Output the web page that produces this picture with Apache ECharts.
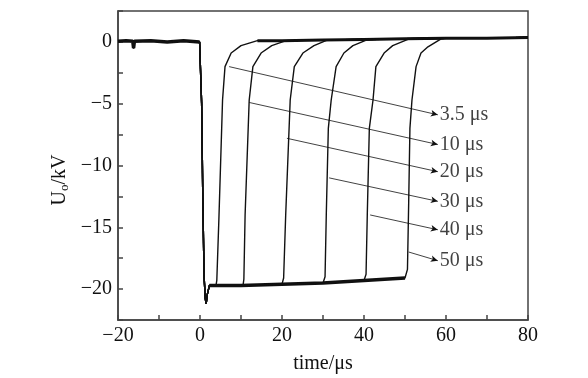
<!DOCTYPE html>
<html>
<head>
<meta charset="utf-8">
<script src="https://cdn.jsdelivr.net/npm/echarts@6/dist/echarts.min.js"></script>
<style>
  html, body { margin: 0; padding: 0; background: #fff; }
  #main { width: 588px; height: 378px; }
</style>
</head>
<body>
<div id="main"></div>
<script>
// pulse output voltage: [time us, kV]
var baseline = [[-20, 0.05], [-18, 0.1], [-16.4, 0.05], [-16.2, -0.5], [-16, 0.05], [-12, 0.1], [-8, 0], [-4, 0.1], [-0.1, 0]];
var fall = [[0.1, 0], [0.4, -5], [0.7, -13], [1.0, -19], [1.3, -20.8], [1.5, -21.2], [1.8, -20.4], [2.3, -19.7]];
var plateau = [[3, -19.7], [10, -19.7], [20, -19.6], [30, -19.5], [40, -19.3], [50, -19.1]];
var tail = [[10, 0.05], [15, 0.1], [20, 0.1], [30, 0.15], [40, 0.2], [50, 0.25], [60, 0.3], [70, 0.3], [80, 0.35]];

var widths = ['3.5', '10', '20', '30', '40', '50'];
var rise35 = [[3.9, -19.7], [4.1, -19.3], [4.6, -14.4], [5.5, -4.7], [6.1, -2.0], [7.6, -0.9], [10, -0.3], [14, 0.1]];
var rise10 = [[10.5, -19.7], [10.7, -19.2], [11.0, -14], [12.0, -4.7], [12.9, -2.0], [14.9, -0.9], [17.5, -0.3], [21, 0.1]];
var rise20 = [[20.1, -19.6], [20.4, -19.1], [20.9, -14], [22.0, -4.7], [23.0, -2.0], [25.1, -0.9], [27.8, -0.3], [31, 0.15]];
var rise30 = [[30.3, -19.5], [30.5, -19.0], [30.8, -14], [31.3, -7], [32.0, -4.7], [33.2, -2.0], [35.1, -0.9], [37.3, -0.3], [41, 0.2]];
var rise40 = [[40.2, -19.3], [40.5, -18.8], [40.8, -14], [41.3, -7], [42.2, -4.7], [42.9, -2.0], [44.9, -0.9], [47, -0.3], [51, 0.25]];
var rise50 = [[50.4, -19.1], [50.6, -18.4], [50.9, -13], [51.2, -7], [51.7, -4.7], [52.7, -2.0], [53.9, -0.9], [55.6, -0.4], [58.8, 0.25]];
var rises = [rise35, rise10, rise20, rise30, rise40, rise50];

// annotation arrows: start on the curve, tip next to the label
var arrowFrom = [[7.1, -2.0], [12.0, -4.9], [21.2, -7.8], [31.5, -11.0], [41.5, -14.0], [50.9, -17.0]];
var arrowTo = [[58, -5.9], [58, -8.3], [58, -10.5], [58, -12.9], [58, -15.2], [58, -17.7]];

var font = '"Liberation Serif", "DejaVu Serif", serif';
var ink = '#111';

function buildCurve(rise) {
    var t0 = rise[0][0];
    var t1 = rise[rise.length - 1][0];
    var pts = baseline.concat(fall);
    plateau.forEach(function (p) { if (p[0] < t0) pts.push(p); });
    pts = pts.concat(rise);
    tail.forEach(function (p) { if (p[0] > t1) pts.push(p); });
    return pts;
}

var series = [];
// thick noisy bands
series.push({ type: 'line', data: baseline, symbol: 'none', lineStyle: { color: ink, width: 3.5 }, z: 3 });
series.push({ type: 'line', data: [[2.3, -19.7]].concat(plateau), symbol: 'none', lineStyle: { color: ink, width: 3.5 }, z: 3 });
series.push({ type: 'line', data: [[14, 0.1]].concat(tail.filter(function (p) { return p[0] > 14; })), symbol: 'none', lineStyle: { color: ink, width: 3 }, z: 3 });

rises.forEach(function (r, i) {
    series.push({
        type: 'line',
        name: widths[i] + ' μs',
        data: buildCurve(r),
        symbol: 'none',
        lineStyle: { color: ink, width: 1.4 },
        z: 4
    });
});

series.push({
    type: 'line',
    data: [],
    markLine: {
        silent: true,
        symbol: ['none', 'arrow'],
        symbolSize: [5, 7],
        label: { show: false },
        lineStyle: { color: ink, width: 0.8, type: 'solid' },
        data: arrowFrom.map(function (p, i) {
            return [{ coord: p }, { coord: arrowTo[i] }];
        })
    }
});

series.push({
    type: 'scatter',
    symbolSize: 0,
    data: arrowTo.map(function (p, i) { return { value: p, name: widths[i] + ' μs' }; }),
    label: {
        show: true,
        position: 'right',
        distance: 2,
        formatter: '{b}',
        fontFamily: font,
        fontSize: 20,
        color: ink
    },
    z: 5
});

var axisLineStyle = { color: '#444', width: 1.5 };

var option = {
    animation: false,
    backgroundColor: '#fff',
    grid: {
        left: 118, right: 60, top: 11, bottom: 58,
        outerBoundsMode: 'none',
        show: true, borderColor: '#444', borderWidth: 1.5
    },
    graphic: [{
        type: 'text',
        x: 60,
        y: 180,
        rotation: Math.PI / 2,
        style: {
            text: '{a|U}{b|o}{a|/kV}',
            align: 'center',
            verticalAlign: 'middle',
            rich: {
                a: { fontFamily: font, fontSize: 20, fill: ink },
                b: { fontFamily: font, fontSize: 13, fill: ink, padding: [10, 0, 0, 0] }
            }
        }
    }],
    xAxis: {
        type: 'value',
        min: -20, max: 80, interval: 10,
        name: 'time/μs',
        nameLocation: 'middle',
        nameGap: 34,
        nameTextStyle: { fontFamily: font, fontSize: 20, color: ink },
        axisLine: { onZero: false, lineStyle: axisLineStyle },
        axisTick: { inside: true, length: 5, lineStyle: axisLineStyle },
        splitLine: { show: false },
        axisLabel: {
            margin: 6,
            fontFamily: font, fontSize: 20, color: ink,
            formatter: function (v) {
                if (v % 20 !== 0) return '';
                return v < 0 ? '\u2212' + Math.abs(v) : String(v);
            }
        }
    },
    yAxis: {
        type: 'value',
        min: -22.5, max: 2.5, interval: 2.5,
        axisLine: { show: true, onZero: false, lineStyle: axisLineStyle },
        axisTick: { show: true, inside: true, length: 5, lineStyle: axisLineStyle },
        splitLine: { show: false },
        axisLabel: {
            margin: 6,
            fontFamily: font, fontSize: 20, color: ink,
            formatter: function (v) {
                if (v % 5 !== 0) return '';
                return v < 0 ? '\u2212' + Math.abs(v) : String(v);
            }
        }
    },
    series: series
};

var chart = echarts.init(document.getElementById('main'));
chart.setOption(option);
</script>
</body>
</html>
